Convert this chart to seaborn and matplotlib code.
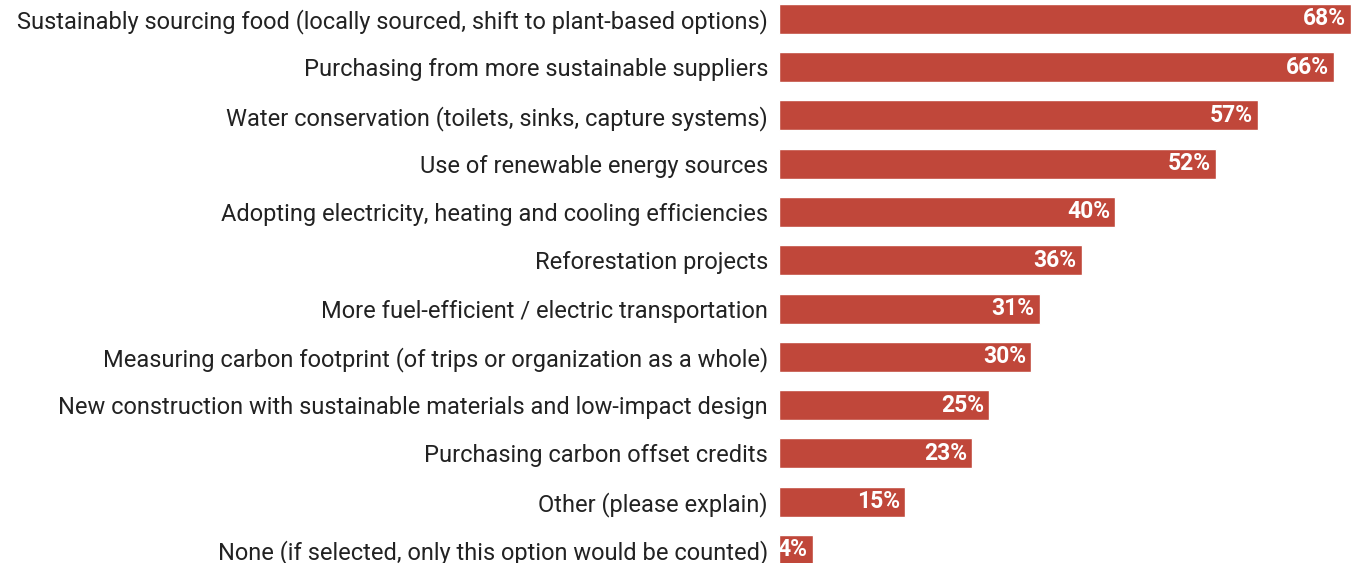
import matplotlib
matplotlib.use("Agg")
import matplotlib.pyplot as plt
import seaborn as sns
import pandas as pd

categories = [
    "Sustainably sourcing food (locally sourced, shift to plant-based options)",
    "Purchasing from more sustainable suppliers",
    "Water conservation (toilets, sinks, capture systems)",
    "Use of renewable energy sources",
    "Adopting electricity, heating and cooling efficiencies",
    "Reforestation projects",
    "More fuel-efficient / electric transportation",
    "Measuring carbon footprint (of trips or organization as a whole)",
    "New construction with sustainable materials and low-impact design",
    "Purchasing carbon offset credits",
    "Other (please explain)",
    "None (if selected, only this option would be counted)",
]
values = [68, 66, 57, 52, 40, 36, 31, 30, 25, 23, 15, 4]

df = pd.DataFrame({"category": categories, "value": values})

sns.set_theme(style="white")
plt.rcParams['font.family'] = ['Roboto', 'DejaVu Sans']

fig = plt.figure(figsize=(13.54, 5.63), dpi=100)
ax = fig.add_axes([779/1354, 0, (1354-779)/1354, 1])
sns.barplot(data=df, x="value", y="category", color="#C0473A", saturation=1,
            width=0.62, ax=ax, orient="h")
ax.set_xlim(0, 68.4)
ax.set_ylim(11.27, -0.39)
ax.set_xlabel("")
ax.set_ylabel("")
ax.set_xticks([])
for s in ax.spines.values():
    s.set_visible(False)
ax.tick_params(axis="y", length=0, pad=8, labelsize=17, labelcolor="#222222")

for i, v in enumerate(values):
    ax.annotate(f"{v}%", xy=(v, i), xytext=(-3.5, 0), textcoords="offset points",
                ha="right", va="center", color="white", fontweight="bold", fontsize=16.5)

fig.savefig("out.png", dpi=100)
